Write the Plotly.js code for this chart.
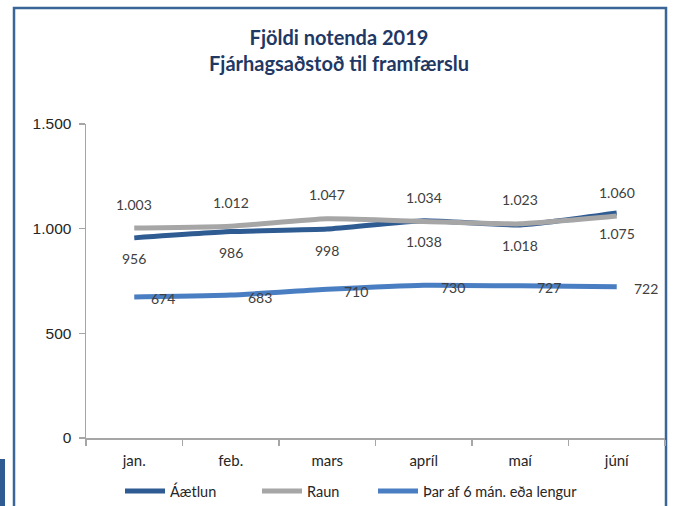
<!DOCTYPE html>
<html>
<head>
<meta charset="utf-8">
<script src="https://cdn.plot.ly/plotly-3.0.1.min.js"></script>
<style>html,body{margin:0;padding:0;background:#fff;}#chart{width:673px;height:506px;}</style>
</head>
<body>
<div id="chart"></div>
<script>
const months = ['jan.', 'feb.', 'mars', 'apríl', 'maí', 'júní'];
const aaetlun = [956, 986, 998, 1038, 1018, 1075];
const raun = [1003, 1012, 1047, 1034, 1023, 1060];
const tharAf = [674, 683, 710, 730, 727, 722];
const seriesNames = ['Áætlun', 'Raun', 'Þar af 6 mán. eða lengur'];
const yTickVals = [0, 500, 1000, 1500];
const titleLines = ['Fjöldi notenda 2019', 'Fjárhagsaðstoð til framfærslu'];

const fmt = v => v.toString().replace(/\B(?=(\d{3})+(?!\d))/g, '.');

const colors = ['#2F5B93', '#A6A6A6', '#4A7EC2'];
const legendIds = ['legend', 'legend2', 'legend3'];
const legendStarts = [120, 257, 373];
const lineFont = {family: 'Lato, "Open Sans", sans-serif', size: 14, color: '#404040'};

const traces = [aaetlun, raun, tharAf].map((vals, i) => ({
  type: 'scatter', mode: 'lines', x: months, y: vals, name: seriesNames[i],
  legend: legendIds[i],
  line: {color: colors[i], width: 5, shape: 'spline', smoothing: 0.5},
  hoverinfo: 'skip'
}));

const annotations = [];
months.forEach((m, i) => {
  annotations.push({x: m, y: raun[i], text: fmt(raun[i]), showarrow: false, yshift: 24, font: lineFont});
  annotations.push({x: m, y: aaetlun[i], text: fmt(aaetlun[i]), showarrow: false, yshift: -21, font: lineFont});
  annotations.push({x: m, y: tharAf[i], text: fmt(tharAf[i]), showarrow: false, xshift: 29, yshift: -2, font: lineFont});
});
annotations.push({
  xref: 'paper', yref: 'paper', x: (339 - 86) / 579, y: (438 - 50) / 314, xanchor: 'center', yanchor: 'middle',
  text: '<b>' + titleLines.join('<br>') + '</b>', showarrow: false,
  font: {family: 'Lato, "Open Sans", sans-serif', size: 20, color: '#1F3864'}
});

const px = x => (x - 86) / 579;
const py = y => (438 - y) / 314;

const layout = {
  width: 673, height: 506,
  margin: {l: 86, r: 8, t: 124, b: 68, autoexpand: false},
  paper_bgcolor: '#fff', plot_bgcolor: '#fff',
  separators: ',.',
  showlegend: true,
  xaxis: {type: 'category', range: [-0.5, 5.5], showgrid: false, zeroline: false,
          showline: true, linecolor: '#A6A6A6', linewidth: 1.5,
          ticks: 'outside', tickson: 'boundaries', ticklen: 6, tickcolor: '#A6A6A6', tickwidth: 1.5,
          ticklabelstandoff: 8,
          tickfont: {family: 'Lato, "Open Sans", sans-serif', size: 15, color: '#262626'}, fixedrange: true},
  yaxis: {range: [0, 1500], tickvals: yTickVals, ticktext: yTickVals.map(fmt), showgrid: false, zeroline: false,
          showline: true, linecolor: '#A6A6A6', linewidth: 1.5,
          ticks: 'outside', ticklen: 6, tickcolor: '#A6A6A6', tickwidth: 1.5,
          ticklabelstandoff: 4,
          tickfont: {family: '"Liberation Sans", Arial, sans-serif', size: 15.5, color: '#262626'}, fixedrange: true},
  annotations: annotations,
  shapes: [
    {type: 'rect', xref: 'paper', yref: 'paper', x0: px(14), x1: px(666), y0: py(560), y1: py(8),
     line: {color: '#3A6599', width: 2.5}, fillcolor: 'rgba(0,0,0,0)', layer: 'below'},
    {type: 'rect', xref: 'paper', yref: 'paper', x0: px(0), x1: px(5), y0: py(560), y1: py(459),
     line: {width: 0}, fillcolor: '#2F5B93', layer: 'below'}
  ]
};
legendIds.forEach((id, i) => {
  layout[id] = {orientation: 'h', x: px(legendStarts[i]), xanchor: 'left', y: py(491), yanchor: 'middle',
    font: {family: 'Lato, "Open Sans", sans-serif', size: 14.5, color: '#262626'},
    itemwidth: 40, bgcolor: 'rgba(0,0,0,0)'};
});

Plotly.newPlot('chart', traces, layout, {displayModeBar: false, staticPlot: true});
</script>
</body>
</html>
